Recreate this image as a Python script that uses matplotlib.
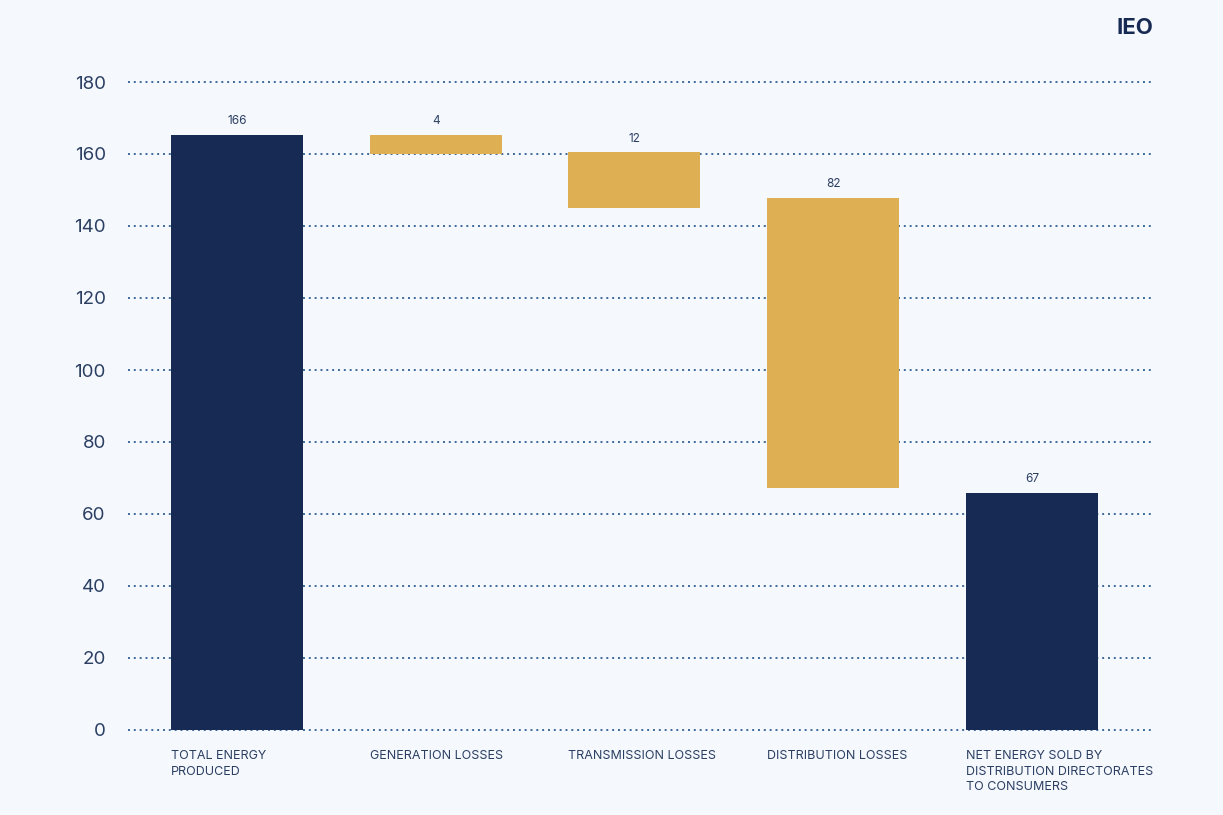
import matplotlib
matplotlib.use("Agg")
import matplotlib.pyplot as plt

# Data
categories = ["TOTAL ENERGY\nPRODUCED", "GENERATION LOSSES", "TRANSMISSION LOSSES",
              "DISTRIBUTION LOSSES", "NET ENERGY SOLD BY\nDISTRIBUTION DIRECTORATES\nTO CONSUMERS"]
value_labels = ["166", "4", "12", "82", "67"]
bar_tops = [165.3, 165.3, 160.5, 147.8, 65.8]
bar_bottoms = [0, 160.0, 145.0, 67.2, 0]
bar_kinds = ["total", "loss", "loss", "loss", "total"]
y_ticks = [0, 20, 40, 60, 80, 100, 120, 140, 160, 180]

BG = "#F5F8FD"
NAVY = "#172A53"
GOLD = "#DFAF53"
GRID = "#3E6A9C"
TXT = "#2B3F63"

plt.rcParams['font.family'] = ['Inter', 'DejaVu Sans']

W, H = 1223, 815
fig = plt.figure(figsize=(W / 100, H / 100), dpi=100, facecolor=BG)
ax = fig.add_axes([128 / W, (H - 730) / H, (1152 - 128) / W, (730 - 82) / H])
ax.set_facecolor(BG)

xs = list(range(len(categories)))
heights = [t - b for t, b in zip(bar_tops, bar_bottoms)]
colors = [NAVY if k == "total" else GOLD for k in bar_kinds]
ax.bar(xs, heights, bottom=bar_bottoms, width=0.664, color=colors, zorder=3)

for x, t, lab in zip(xs, bar_tops, value_labels):
    ax.annotate(lab, (x, t), xytext=(0, 5.5), textcoords="offset points",
                ha="center", va="bottom", fontsize=8.5, color=TXT)

ax.set_xlim(-0.548, 4.604)
ax.set_ylim(0, 180)
ax.set_yticks(y_ticks)
ax.set_yticklabels([str(v) for v in y_ticks], fontsize=13.5, color=TXT)
ax.tick_params(axis="y", length=0, pad=16)
ax.set_xticks([])
for y in y_ticks:
    ax.axhline(y, color=GRID, linestyle=(0, (1, 2)), linewidth=1.4, zorder=1, clip_on=False)
for s in ax.spines.values():
    s.set_visible(False)

for x, lab in zip(xs, categories):
    ax.annotate(lab, (x - 0.332, 0), xytext=(0, -14.5), textcoords="offset points",
                ha="left", va="top", fontsize=9, color=TXT, linespacing=1.4,
                annotation_clip=False)

fig.text(1153 / W, 1 - 28 / H, "IEO", ha="right", va="center", fontsize=16,
         fontweight="bold", color=NAVY)

fig.savefig("out.png", dpi=100, facecolor=BG)
